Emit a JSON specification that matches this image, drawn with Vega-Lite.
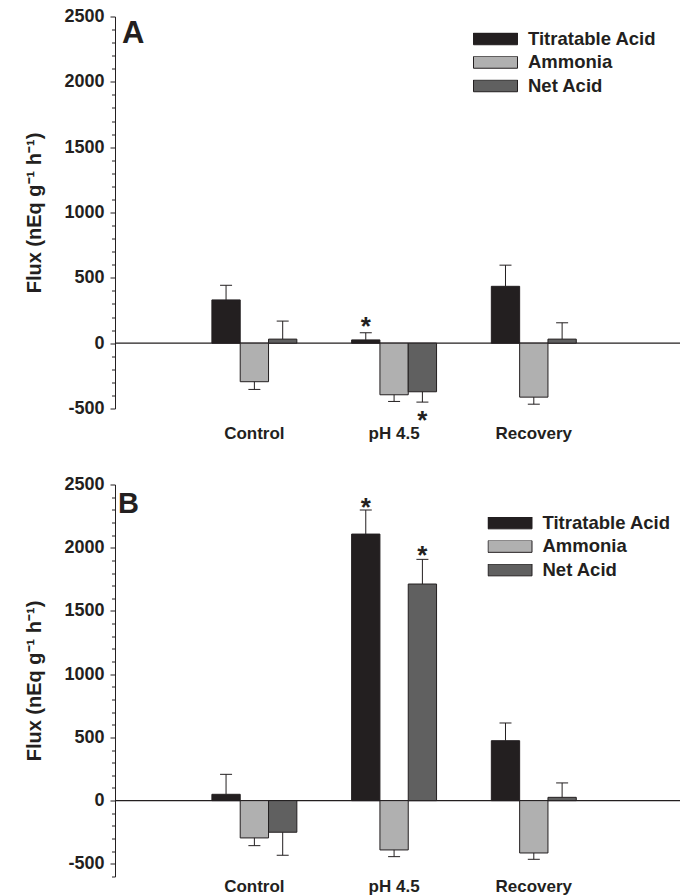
{
  "$schema": "https://vega.github.io/schema/vega-lite/v6.json",
  "padding": {"left": 24, "top": 7.5, "right": 5, "bottom": 2},
  "bounds": "flush",
  "spacing": 76,
  "resolve": {"legend": {"color": "independent"}, "scale": {"color": "independent"}},
  "config": {
    "font": "Liberation Sans",
    "view": {"stroke": null},
    "axis": {"domainColor": "#231f20", "tickColor": "#231f20", "labelColor": "#231f20", "titleColor": "#231f20", "grid": false}
  },
  "datasets": {
    "A": [
      {"group": "Control", "series": "Titratable Acid", "value": 331, "hi": 443},
      {"group": "Control", "series": "Ammonia", "value": -295, "hi": -354},
      {"group": "Control", "series": "Net Acid", "value": 31, "hi": 169},
      {"group": "pH 4.5", "series": "Titratable Acid", "value": 25, "hi": 79},
      {"group": "pH 4.5", "series": "Ammonia", "value": -395, "hi": -446},
      {"group": "pH 4.5", "series": "Net Acid", "value": -372, "hi": -451},
      {"group": "Recovery", "series": "Titratable Acid", "value": 435, "hi": 597},
      {"group": "Recovery", "series": "Ammonia", "value": -413, "hi": -467},
      {"group": "Recovery", "series": "Net Acid", "value": 31, "hi": 156}
    ],
    "Astars": [
      {"group": "pH 4.5", "series": "Titratable Acid", "pos": 166},
      {"group": "pH 4.5", "series": "Net Acid", "pos": -546}
    ],
    "B": [
      {"group": "Control", "series": "Titratable Acid", "value": 50, "hi": 208},
      {"group": "Control", "series": "Ammonia", "value": -295, "hi": -356},
      {"group": "Control", "series": "Net Acid", "value": -250, "hi": -432},
      {"group": "pH 4.5", "series": "Titratable Acid", "value": 2108, "hi": 2298},
      {"group": "pH 4.5", "series": "Ammonia", "value": -390, "hi": -443},
      {"group": "pH 4.5", "series": "Net Acid", "value": 1713, "hi": 1908},
      {"group": "Recovery", "series": "Titratable Acid", "value": 474, "hi": 614},
      {"group": "Recovery", "series": "Ammonia", "value": -414, "hi": -464},
      {"group": "Recovery", "series": "Net Acid", "value": 26, "hi": 140}
    ],
    "Bstars": [
      {"group": "pH 4.5", "series": "Titratable Acid", "pos": 2358},
      {"group": "pH 4.5", "series": "Net Acid", "pos": 1982}
    ]
  },
  "vconcat": [
    {
      "width": 565,
      "height": 392,
      "title": {"text": "A", "anchor": "start", "frame": "group", "fontSize": 31, "fontWeight": "bold", "baseline": "top", "offset": -4, "dx": 7, "dy": 38, "color": "#231f20"},
      "layer": [
        {
          "data": {"values": [{}]},
          "mark": {"type": "rule", "color": "#231f20", "strokeWidth": 1.2},
          "encoding": {"y": {"datum": 0, "type": "quantitative"}}
        },
        {
          "data": {"name": "A"},
          "mark": {"type": "bar", "stroke": "#231f20", "strokeWidth": 1},
          "encoding": {
            "x": {"field": "group", "type": "nominal", "sort": ["Control", "pH 4.5", "Recovery"],
              "scale": {"domain": ["Control", "pH 4.5", "Recovery"], "paddingInner": 0.392, "paddingOuter": 0.718, "align": 0.483},
              "axis": {"title": null, "domain": false, "ticks": false, "tickSize": 0, "labelAngle": 0, "labelPadding": 16.7, "labelFontSize": 17, "labelFontWeight": "bold", "labelBaseline": "top"}},
            "xOffset": {"field": "series", "type": "nominal", "sort": ["Titratable Acid", "Ammonia", "Net Acid"], "scale": {"domain": ["Titratable Acid", "Ammonia", "Net Acid"]}},
            "y": {"field": "value", "type": "quantitative", "stack": null,
              "scale": {"domain": [-500, 2500], "nice": false, "zero": false},
              "axis": {"title": "Flux (nEq g⁻¹ h⁻¹)", "titleFontSize": 20, "titleFontWeight": "bold", "titleX": -75, "titleY": 196, "titleAlign": "center", "titleBaseline": "alphabetic", "titleAngle": -90,
                "values": [-500,-400,-300,-200,-100,0,100,200,300,400,500,600,700,800,900,1000,1100,1200,1300,1400,1500,1600,1700,1800,1900,2000,2100,2200,2300,2400,2500],
                "tickCount": 1000,
                "labelExpr": "datum.value % 500 === 0 ? '' + datum.value : ''",
                "labelOverlap": false, "labelFontSize": 18, "labelFontWeight": "bold", "labelPadding": 6,
                "tickSize": {"condition": {"test": "datum.value % 500 === 0", "value": 5}, "value": 3.5}}},
            "color": {"field": "series", "type": "nominal",
              "scale": {"domain": ["Titratable Acid", "Ammonia", "Net Acid"], "range": ["#231f20", "#b0b0b0", "#606060"]},
              "legend": {"orient": "none", "legendX": 358, "legendY": 16.3, "title": null, "padding": 0,
                "symbolType": "M-1,-0.27H1V0.27H-1Z", "symbolSize": 1936, "symbolStrokeColor": "#231f20", "symbolStrokeWidth": 1,
                "labelFontSize": 18.5, "labelFontWeight": "bold", "labelColor": "#231f20", "labelOffset": 10, "rowPadding": 4.5, "clipHeight": 12}}
          }
        },
        {
          "data": {"name": "A"},
          "mark": {"type": "rule", "color": "#231f20", "strokeWidth": 1},
          "encoding": {
            "x": {"field": "group", "type": "nominal"},
            "xOffset": {"field": "series", "type": "nominal"},
            "y": {"field": "value", "type": "quantitative"},
            "y2": {"field": "hi"}
          }
        },
        {
          "data": {"name": "A"},
          "mark": {"type": "tick", "color": "#231f20", "size": 12, "thickness": 1, "opacity": 1},
          "encoding": {
            "x": {"field": "group", "type": "nominal"},
            "xOffset": {"field": "series", "type": "nominal"},
            "y": {"field": "hi", "type": "quantitative"}
          }
        },
        {
          "data": {"name": "Astars"},
          "mark": {"type": "text", "text": "*", "fontSize": 26, "fontWeight": "bold", "baseline": "alphabetic", "dy": 14, "color": "#231f20"},
          "encoding": {
            "x": {"field": "group", "type": "nominal"},
            "xOffset": {"field": "series", "type": "nominal"},
            "y": {"field": "pos", "type": "quantitative"}
          }
        }
      ]
    },
    {
      "width": 565,
      "height": 392,
      "title": {"text": "B", "anchor": "start", "frame": "group", "fontSize": 29, "fontWeight": "bold", "baseline": "top", "offset": -9, "dx": 3, "dy": 34, "color": "#231f20"},
      "layer": [
        {
          "data": {"values": [{}]},
          "mark": {"type": "rule", "color": "#231f20", "strokeWidth": 1.2},
          "encoding": {"y": {"datum": 0, "type": "quantitative"}}
        },
        {
          "data": {"name": "B"},
          "mark": {"type": "bar", "stroke": "#231f20", "strokeWidth": 1},
          "encoding": {
            "x": {"field": "group", "type": "nominal", "sort": ["Control", "pH 4.5", "Recovery"],
              "scale": {"domain": ["Control", "pH 4.5", "Recovery"], "paddingInner": 0.392, "paddingOuter": 0.718, "align": 0.483},
              "axis": {"title": null, "domain": false, "ticks": false, "tickSize": 0, "labelAngle": 0, "labelPadding": 1.7, "labelFontSize": 17, "labelFontWeight": "bold", "labelBaseline": "top"}},
            "xOffset": {"field": "series", "type": "nominal", "sort": ["Titratable Acid", "Ammonia", "Net Acid"], "scale": {"domain": ["Titratable Acid", "Ammonia", "Net Acid"]}},
            "y": {"field": "value", "type": "quantitative", "stack": null,
              "scale": {"domain": [-600, 2500], "nice": false, "zero": false},
              "axis": {"title": "Flux (nEq g⁻¹ h⁻¹)", "titleFontSize": 20, "titleFontWeight": "bold", "titleX": -75, "titleY": 196, "titleAlign": "center", "titleBaseline": "alphabetic", "titleAngle": -90,
                "values": [-600,-500,-400,-300,-200,-100,0,100,200,300,400,500,600,700,800,900,1000,1100,1200,1300,1400,1500,1600,1700,1800,1900,2000,2100,2200,2300,2400,2500],
                "tickCount": 1000,
                "labelExpr": "datum.value % 500 === 0 ? '' + datum.value : ''",
                "labelOverlap": false, "labelFontSize": 18, "labelFontWeight": "bold", "labelPadding": 6,
                "tickSize": {"condition": {"test": "datum.value % 500 === 0", "value": 5}, "value": 3.5}}},
            "color": {"field": "series", "type": "nominal",
              "scale": {"domain": ["Titratable Acid", "Ammonia", "Net Acid"], "range": ["#231f20", "#b0b0b0", "#606060"]},
              "legend": {"orient": "none", "legendX": 372.5, "legendY": 32.4, "title": null, "padding": 0,
                "symbolType": "M-1,-0.27H1V0.27H-1Z", "symbolSize": 1936, "symbolStrokeColor": "#231f20", "symbolStrokeWidth": 1,
                "labelFontSize": 18.5, "labelFontWeight": "bold", "labelColor": "#231f20", "labelOffset": 10, "rowPadding": 4.5, "clipHeight": 12}}
          }
        },
        {
          "data": {"name": "B"},
          "mark": {"type": "rule", "color": "#231f20", "strokeWidth": 1},
          "encoding": {
            "x": {"field": "group", "type": "nominal"},
            "xOffset": {"field": "series", "type": "nominal"},
            "y": {"field": "value", "type": "quantitative"},
            "y2": {"field": "hi"}
          }
        },
        {
          "data": {"name": "B"},
          "mark": {"type": "tick", "color": "#231f20", "size": 12, "thickness": 1, "opacity": 1},
          "encoding": {
            "x": {"field": "group", "type": "nominal"},
            "xOffset": {"field": "series", "type": "nominal"},
            "y": {"field": "hi", "type": "quantitative"}
          }
        },
        {
          "data": {"name": "Bstars"},
          "mark": {"type": "text", "text": "*", "fontSize": 26, "fontWeight": "bold", "baseline": "alphabetic", "dy": 14, "color": "#231f20"},
          "encoding": {
            "x": {"field": "group", "type": "nominal"},
            "xOffset": {"field": "series", "type": "nominal"},
            "y": {"field": "pos", "type": "quantitative"}
          }
        }
      ]
    }
  ]
}
